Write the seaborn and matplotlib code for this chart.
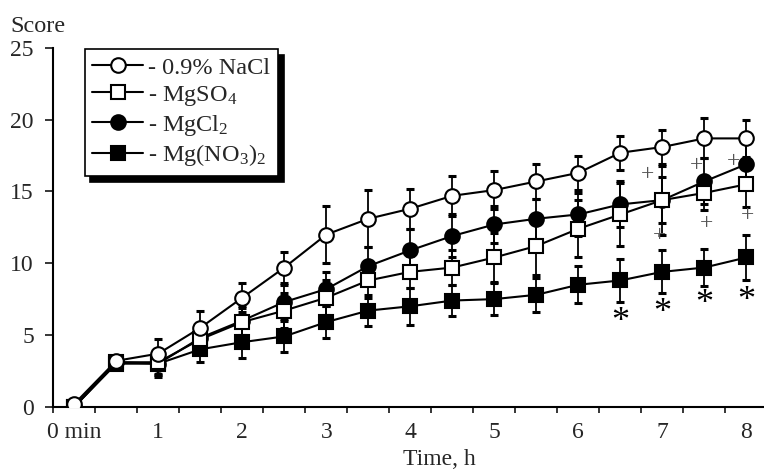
import numpy as np
import pandas as pd
import matplotlib
matplotlib.use('Agg')
import matplotlib.pyplot as plt
import seaborn as sns

# time points every half hour
time_h = [0, 0.5, 1, 1.5, 2, 2.5, 3, 3.5, 4, 4.5, 5, 5.5, 6, 6.5, 7, 7.5, 8]

nacl = [0.2, 3.2, 3.7, 5.5, 7.6, 9.7, 12.0, 13.1, 13.8, 14.7, 15.1, 15.7, 16.3, 17.7, 18.1, 18.7, 18.7]
nacl_err = [0, 0.2, 1.0, 1.2, 1.0, 1.1, 2.0, 2.0, 1.4, 1.4, 1.3, 1.2, 1.2, 1.2, 1.2, 1.4, 1.3]

mgso4 = [0, 3.1, 3.1, 4.7, 5.9, 6.7, 7.6, 8.8, 9.4, 9.7, 10.4, 11.2, 12.4, 13.4, 14.4, 14.9, 15.5]
mgso4_err = [0, 0, 0.8, 1.0, 1.0, 1.2, 1.2, 1.2, 1.1, 1.2, 1.7, 2.0, 2.0, 2.2, 2.4, 1.2, 1.6]

mgcl2 = [0, 3.1, 3.0, 4.8, 6.0, 7.3, 8.2, 9.8, 10.9, 11.9, 12.7, 13.1, 13.4, 14.1, 14.4, 15.7, 16.9]
mgcl2_err = [0, 0, 0.8, 1.0, 1.0, 1.2, 1.2, 1.3, 1.5, 1.5, 1.3, 1.4, 1.5, 1.6, 1.6, 1.6, 1.5]

mgno3 = [0, 3.0, 3.0, 4.0, 4.5, 4.9, 5.9, 6.7, 7.0, 7.4, 7.5, 7.8, 8.5, 8.8, 9.4, 9.7, 10.4]
mgno3_err = [0, 0, 0.9, 0.9, 1.1, 1.1, 1.1, 1.1, 1.3, 1.05, 1.1, 1.2, 1.3, 1.5, 1.5, 1.3, 1.6]

labels = ['- 0.9% NaCl', '- MgSO$_4$', '- MgCl$_2$', '- Mg(NO$_3$)$_2$']

# significance marks
star_x = [6.5, 7, 7.5, 8]
star_y = [5.9, 6.5, 7.1, 7.3]
plus_x = [6.82, 6.97, 7.41, 7.52, 7.85, 8.01]
plus_y = [16.2, 11.9, 16.8, 12.8, 17.1, 13.3]

xtick_labels = ['0 min', '1', '2', '3', '4', '5', '6', '7', '8']

sns.set_style('ticks')
plt.rcParams['font.family'] = ['Liberation Serif', 'DejaVu Serif']
plt.rcParams['mathtext.fontset'] = 'custom'
plt.rcParams['mathtext.rm'] = 'Liberation Serif'
plt.rcParams['mathtext.default'] = 'regular'

fig = plt.figure(figsize=(7.64, 4.72), dpi=100)
ax = fig.add_axes([0.0698, 0.1383, 0.9302, 0.760])

series = [
    (nacl, nacl_err, 'o', 'white', 10.5),
    (mgso4, mgso4_err, 's', 'white', 9.5),
    (mgcl2, mgcl2_err, 'o', 'black', 10.5),
    (mgno3, mgno3_err, 's', 'black', 9.5),
]

# draw the last series first so the saline curve ends up on top
for i in reversed(range(len(series))):
    vals, err, mk, fc, ms = series[i]
    ax.errorbar(time_h, vals, yerr=err, fmt='none', ecolor='black',
                elinewidth=1.3, capsize=3.2, capthick=2.2, zorder=2)
    sns.lineplot(x=time_h, y=vals, ax=ax, color='black', linewidth=1.5,
                 marker=mk, markerfacecolor=fc, markeredgecolor='black',
                 markeredgewidth=1.5, markersize=ms, label=labels[i],
                 zorder=10 - i)

for x, y in zip(star_x, star_y):
    ax.text(x, y, '*', ha='center', va='center', fontsize=26, color='black')
for x, y in zip(plus_x, plus_y):
    ax.text(x, y, '+', ha='center', va='center', fontsize=17, color='#555555')

ax.set_xlim(-0.25, 8.21)
ax.set_ylim(0, 25)
ax.set_xticks(range(9))
ax.set_xticklabels(xtick_labels)
ax.set_xticks(np.arange(-0.25, 8, 0.5), minor=True)
ax.set_yticks(range(0, 26, 5))
ax.tick_params(axis='x', which='major', length=0, pad=11, labelsize=17)
ax.tick_params(axis='x', which='minor', length=4.5, width=1.3, direction='out')
ax.tick_params(axis='y', length=6, width=1.3, direction='out', pad=8, labelsize=17)

sns.despine(ax=ax)
for s in ['left', 'bottom']:
    ax.spines[s].set_linewidth(1.5)
    ax.spines[s].set_color('black')

ax.set_xlabel('Time, h', fontsize=17)
ax.xaxis.set_label_coords(0.543, -0.118)
ax.set_ylabel('')
fig.text(10 / 764, 1 - 32 / 472, 'Score', fontsize=17.5, va='baseline')

handles, labs = ax.get_legend_handles_labels()
order = [labs.index(l) for l in labels]
leg = ax.legend([handles[k] for k in order], [labs[k] for k in order],
                loc='upper left', bbox_to_anchor=(0.044, 0.997), borderaxespad=0,
                frameon=True, fancybox=False, framealpha=1, edgecolor='black',
                shadow={'ox': 4, 'oy': -4, 'shade': 1.0, 'alpha': 1},
                fontsize=17.5, handlelength=2.1, handletextpad=0.2,
                borderpad=0.32, labelspacing=0.2)
leg.get_frame().set_linewidth(1.2)

fig.savefig('out.png', dpi=100)
